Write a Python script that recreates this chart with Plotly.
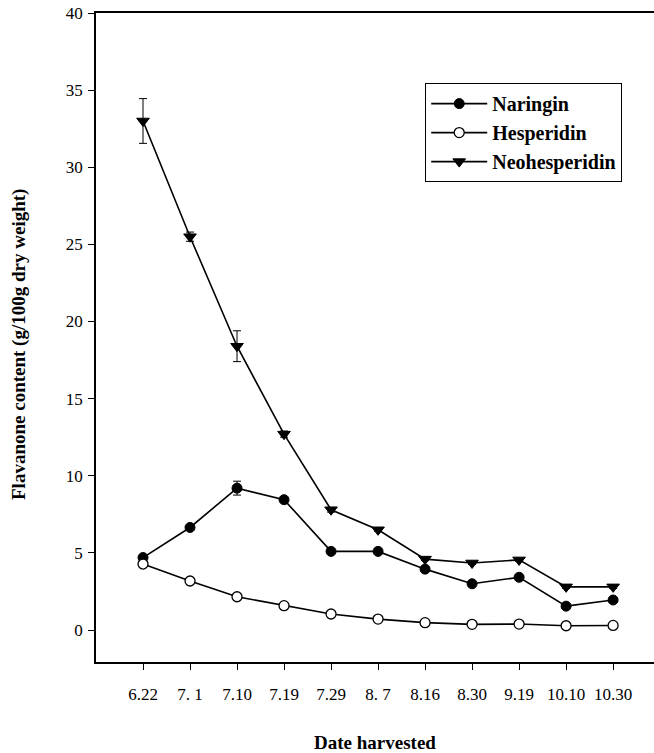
import plotly.graph_objects as go

dates = ["6.22", "7. 1", "7.10", "7.19", "7.29", "8. 7", "8.16", "8.30", "9.19", "10.10", "10.30"]
naringin = [4.7, 6.65, 9.2, 8.45, 5.1, 5.1, 3.95, 3.0, 3.42, 1.55, 1.95]
naringin_err = [0.1, 0.1, 0.45, 0.15, 0.1, 0.1, 0.1, 0.1, 0.1, 0.1, 0.1]
hesperidin = [4.28, 3.18, 2.16, 1.58, 1.04, 0.71, 0.48, 0.37, 0.39, 0.28, 0.3]
neohesperidin = [33.0, 25.5, 18.4, 12.7, 7.8, 6.5, 4.6, 4.35, 4.55, 2.8, 2.8]
neohesperidin_err = [1.45, 0.3, 1.0, 0.2, 0.15, 0.1, 0.1, 0.1, 0.1, 0.1, 0.1]
yticks = [0, 5, 10, 15, 20, 25, 30, 35, 40]

x = list(range(len(dates)))
font = "Liberation Serif, Times New Roman, serif"
fig = go.Figure()
line = dict(color="black", width=1.6)
fig.add_trace(go.Scatter(x=x, y=naringin, name="Naringin", mode="lines+markers",
                         line=line,
                         marker=dict(symbol="circle", size=10, color="black", line=dict(color="black", width=1)),
                         error_y=dict(type="data", array=naringin_err, color="black", thickness=1, width=4)))
fig.add_trace(go.Scatter(x=x, y=hesperidin, name="Hesperidin", mode="lines+markers",
                         line=line,
                         marker=dict(symbol="circle", size=10, color="white", line=dict(color="black", width=1.3))))
fig.add_trace(go.Scatter(x=x, y=neohesperidin, name="Neohesperidin", mode="lines+markers",
                         line=line,
                         marker=dict(symbol="triangle-down", size=11, color="black", line=dict(color="black", width=1)),
                         error_y=dict(type="data", array=neohesperidin_err, color="black", thickness=1, width=4)))

fig.update_layout(
    width=654, height=753,
    margin=dict(l=96, r=0, t=13, b=91),
    paper_bgcolor="white", plot_bgcolor="white",
    font=dict(family=font, color="black", size=17),
    showlegend=True,
    legend=dict(x=0.59, y=0.892, xanchor="left", yanchor="top",
                bordercolor="black", borderwidth=1, bgcolor="white",
                font=dict(family=font, size=20, color="black", weight="bold"),
                itemwidth=56, tracegroupgap=0),
    xaxis=dict(range=[-1, 10.87], tickvals=x, ticktext=dates, showgrid=False, zeroline=False,
               showline=True, linecolor="black", linewidth=1.5, mirror=True, automargin=False,
               ticks="outside", ticklen=6, tickcolor="black", tickwidth=1,
               ticklabelstandoff=10, tickfont=dict(size=17)),
    yaxis=dict(range=[-2.07, 40], tickvals=yticks, showgrid=False, zeroline=False,
               showline=True, linecolor="black", linewidth=1.5, automargin=False,
               ticks="outside", ticklen=6, tickcolor="black", tickwidth=1,
               ticklabelstandoff=2, tickfont=dict(size=17)),
    annotations=[
        dict(text="<b>Date harvested</b>", xref="paper", yref="paper", x=0.5, y=-0.1245,
             xanchor="center", yanchor="middle", showarrow=False, font=dict(size=19)),
        dict(text="<b>Flavanone content (g/100g dry weight)</b>", xref="paper", yref="paper",
             x=-0.138, y=0.49, xanchor="center", yanchor="middle", textangle=-90,
             showarrow=False, font=dict(size=19)),
    ],
)
fig.write_html("out.html", config={"displayModeBar": False},
               post_script="document.body.style.margin='0';document.body.style.overflow='hidden';")
